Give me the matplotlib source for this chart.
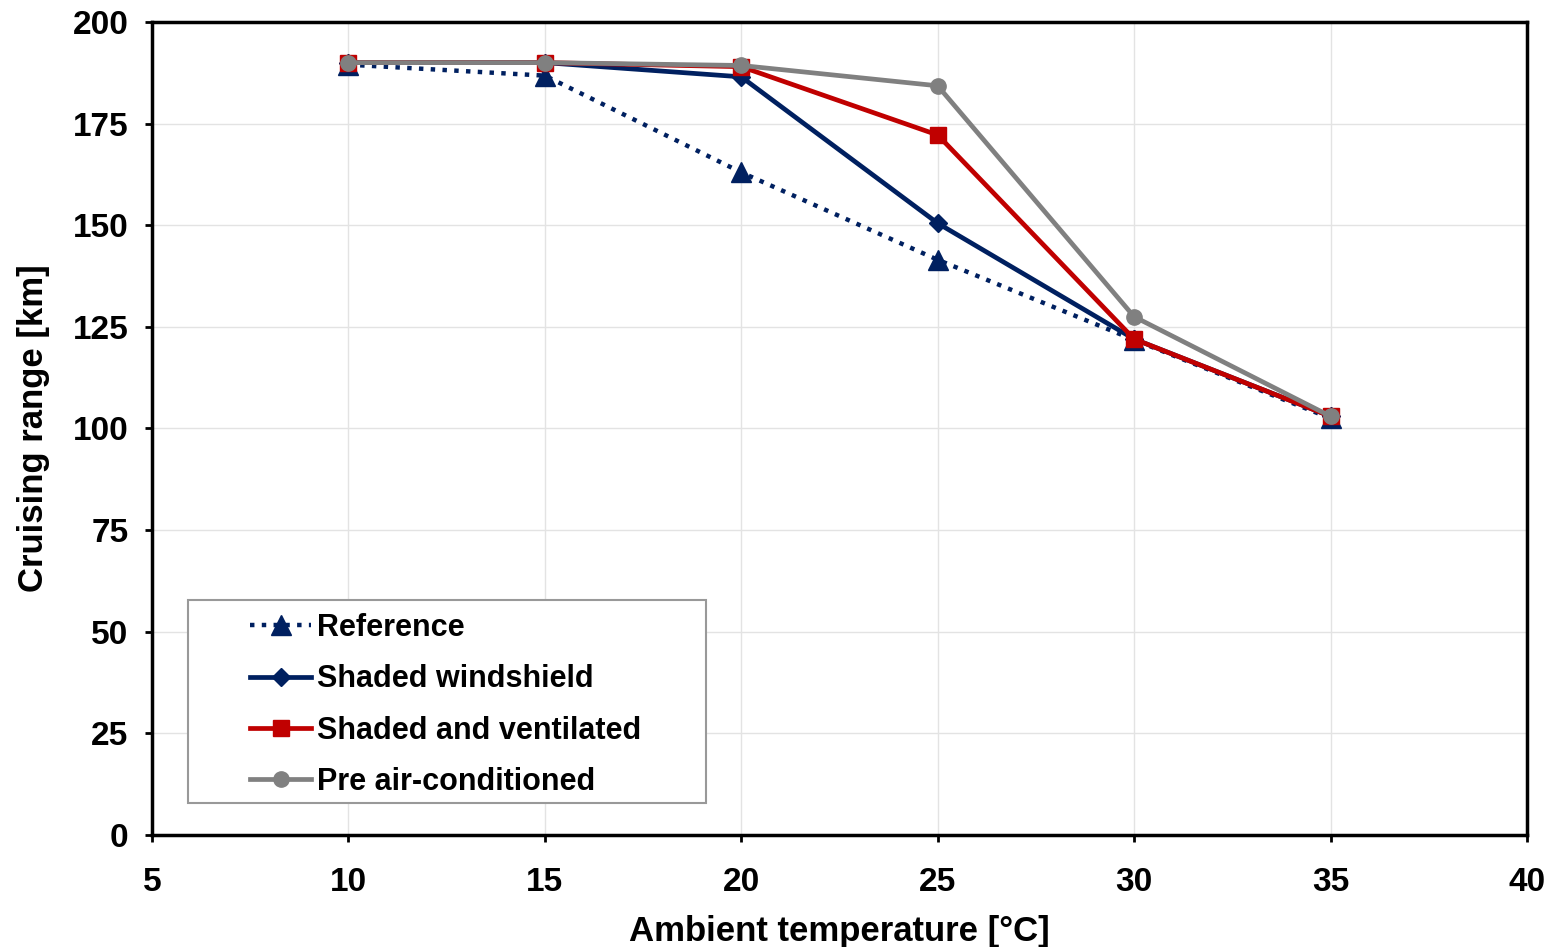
import matplotlib
matplotlib.use("Agg")
import matplotlib.pyplot as plt
from matplotlib.patches import Rectangle

plt.rcParams["font.family"] = ["Liberation Sans", "DejaVu Sans"]
plt.rcParams["font.weight"] = "bold"

temps = [10, 15, 20, 25, 30, 35]
reference = [189.5, 186.8, 163.0, 141.5, 121.8, 102.5]
shaded_windshield = [190.0, 190.0, 186.5, 150.5, 122.0, 103.0]
shaded_ventilated = [190.0, 190.0, 189.0, 172.2, 122.0, 103.0]
pre_ac = [190.0, 190.0, 189.3, 184.3, 127.5, 103.0]

navy = "#002060"
red = "#C00000"
gray = "#808080"

fig = plt.figure(figsize=(15.57, 9.47), dpi=100)
ax = fig.add_axes([0.0976, 0.1183, 0.8831, 0.8585])

ax.plot(temps, reference, ls=":", lw=3.2, color=navy, marker="^", ms=15,
        label="Reference", zorder=3)
ax.plot(temps, shaded_windshield, ls="-", lw=3.4, color=navy, marker="D", ms=9,
        label="Shaded windshield", zorder=4)
ax.plot(temps, shaded_ventilated, ls="-", lw=3.4, color=red, marker="s", ms=11,
        label="Shaded and ventilated", zorder=5)
ax.plot(temps, pre_ac, ls="-", lw=3.4, color=gray, marker="o", ms=11,
        label="Pre air-conditioned", zorder=6)

ax.set_xlim(5, 40)
ax.set_ylim(0, 200)
ax.set_xticks(range(5, 41, 5))
ax.set_yticks(range(0, 201, 25))
ax.grid(True, color="#e3e3e3", lw=1)
ax.set_axisbelow(True)
for s in ax.spines.values():
    s.set_linewidth(2.5)
    s.set_color("black")
ax.tick_params(labelsize=24, width=2, length=5)
ax.tick_params(axis="y", pad=12)
ax.tick_params(axis="x", pad=18)

ax.set_xlabel("Ambient temperature [°C]", fontsize=25, fontweight="bold", labelpad=12)
ax.set_ylabel("Cruising range [km]", fontsize=25, fontweight="bold", labelpad=16)

# legend box drawn separately so the entries can sit offset inside it
ax.add_patch(Rectangle((0.0262, 0.0394), 0.3767, 0.2496, transform=ax.transAxes,
                       facecolor="white", edgecolor="#999999", lw=1.5, zorder=7))
leg = ax.legend(loc="upper left", bbox_to_anchor=(0.0713, 0.273), fontsize=22,
                frameon=False, handlelength=2.0, borderpad=0, labelspacing=0.7,
                handletextpad=0.2, borderaxespad=0)
leg.set_zorder(8)

fig.savefig("out.png", dpi=100)
